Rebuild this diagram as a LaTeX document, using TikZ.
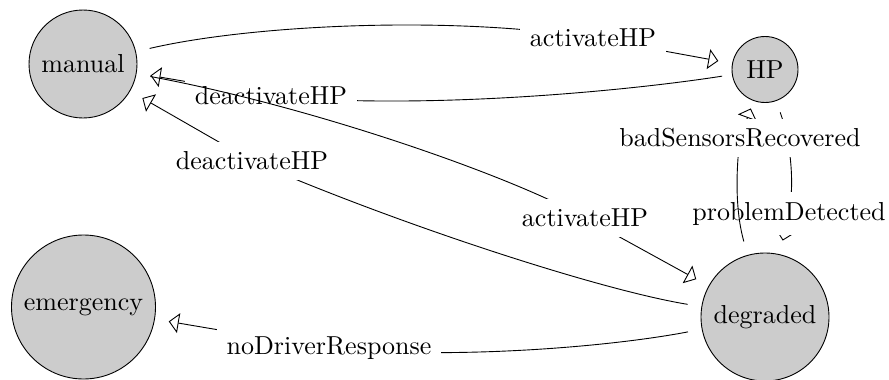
\documentclass[tikz,border=0pt]{standalone}
\usepackage{graphicx}
\usetikzlibrary{arrows.meta}
\newcommand{\sx}[1]{\scalebox{2.6}{#1}}
\begin{document}
\begin{tikzpicture}[x=1pt,y=-1pt,
  state/.style={circle, draw, fill=black!20, line width=0.9pt, inner sep=0pt},
  lab/.style={fill=white, inner sep=10pt},
  edge/.style={line width=0.9pt, shorten <=14pt, shorten >=14pt},
  arr/.style={edge, -{Triangle[open,length=10pt,width=20pt]}}]
\useasboundingbox (0,0) rectangle (889,380);
\node[state, minimum size=108pt] (manual) at (83,64) {\sx{manual}};
\node[state, minimum size=66pt] (HP) at (765,69.5) {\sx{HP}};
\node[state, minimum size=144pt] (emergency) at (83.5,307) {\sx{emergency}};
\node[state, minimum size=128pt] (degraded) at (765,317) {\sx{degraded}};
\coordinate (c1) at (593,38);
\coordinate (c2) at (271,96);
\coordinate (c3) at (252,161);
\coordinate (c4) at (585,218);
\coordinate (c5) at (329,348.6);
\coordinate (c6) at (789,213.5);
\coordinate (c7) at (740,138);
% E1 manual -> HP
\draw[arr] (manual) .. controls (250,25) and (450,15) .. (c1) -- (HP);
\node[lab] (L1) at (c1) {\sx{activateHP}};
% E2 HP -> manual
\draw[arr, shorten <=10pt] (HP) .. controls (620,92) and (420,110) .. (c2) -- (manual);
\node[lab] (L2) at (c2) {\sx{deactivateHP}};
% E3 degraded -> manual
\draw[arr] (degraded) .. controls (600,290) and (400,225) .. (c3) -- (manual);
\node[lab] (L3) at (c3) {\sx{deactivateHP}};
% E6 HP -> degraded
\draw[arr, shorten <=12pt] (HP) .. controls (790,140) and (795,180) .. (c6) -- (degraded);
\node[lab] (L6) at (c6) {\sx{problemDetected}};
% E5 degraded -> emergency
\draw[arr] (degraded) .. controls (620,345) and (470,360) .. (c5) -- (emergency);
\node[lab] (L5) at (c5) {\sx{noDriverResponse}};
% E4 manual -> degraded
\draw[arr] (manual) .. controls (320,108) and (520,180) .. (c4) -- (degraded);
\node[lab] (L4) at (c4) {\sx{activateHP}};
% E7 degraded -> HP
\draw[arr, shorten >=8pt] (degraded) .. controls (735,210) and (736,170) .. (c7) -- (HP);
\node[lab] (L7) at (c7) {\sx{badSensorsRecovered}};
\end{tikzpicture}
\end{document}
